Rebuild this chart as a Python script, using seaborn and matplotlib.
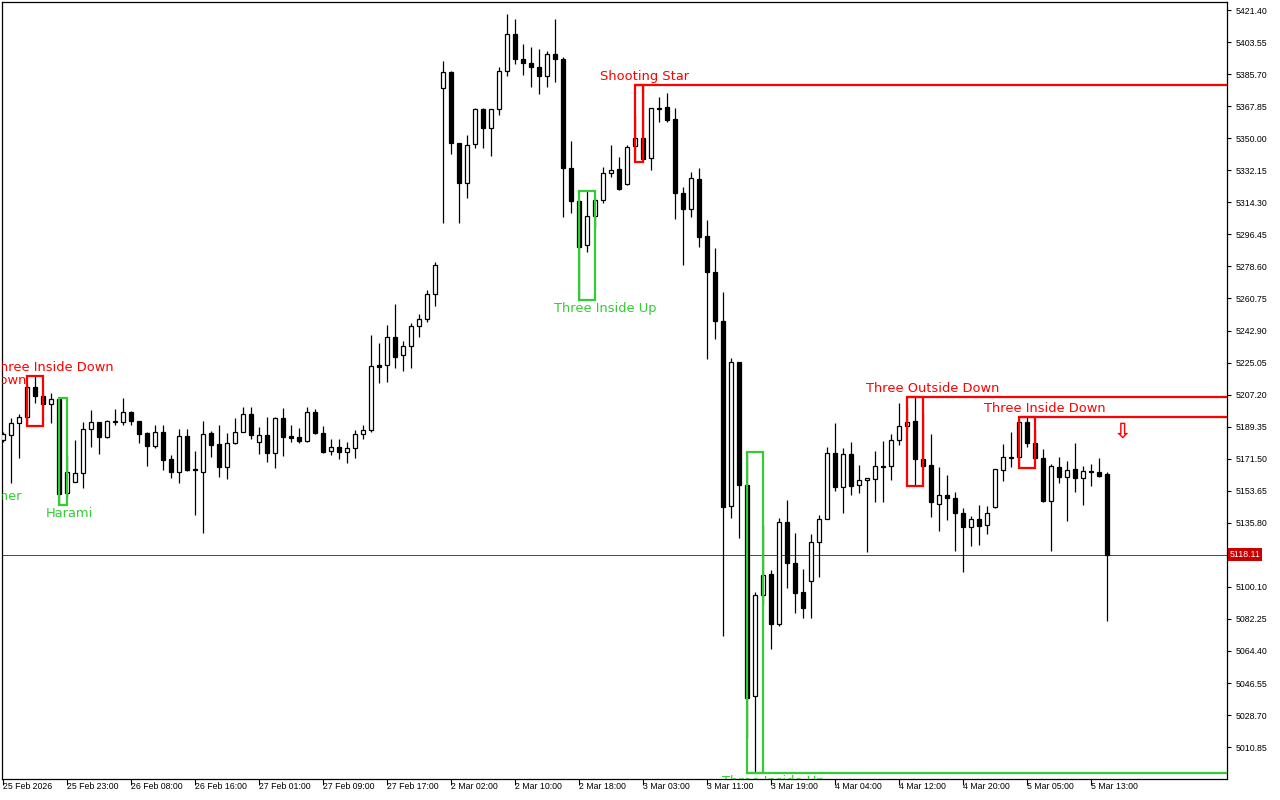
import numpy as np
import pandas as pd
import matplotlib
matplotlib.use("Agg")
import matplotlib.pyplot as plt
import matplotlib.transforms as mtransforms
from matplotlib import font_manager
from matplotlib.patches import Rectangle
import seaborn as sns

# =========================================================
# 0. DATA (H1 candles)
# =========================================================

opens = [
    5181.9, 5184.7, 5191.2, 5194.5, 5211.6, 5206.4, 5201.8, 5204.6, 5152.5, 5158.7,
    5163.3, 5187.9, 5191.8, 5183.7, 5192.1, 5192.1, 5197.7, 5192.6, 5185.6, 5178.7,
    5186.5, 5171.3, 5164.2, 5184.1, 5165.6, 5164.2, 5185.6, 5179.7, 5167.0, 5180.1,
    5186.5, 5196.2, 5180.9, 5184.7, 5174.5, 5194.0, 5184.1, 5183.4, 5181.5, 5197.3,
    5185.6, 5175.9, 5178.2, 5175.4, 5177.3, 5185.1, 5187.3, 5223.5, 5223.5, 5239.1,
    5229.1, 5234.4, 5245.2, 5249.5, 5263.0, 5377.8, 5386.7, 5347.2, 5324.9, 5346.6,
    5366.3, 5355.5, 5366.1, 5387.4, 5407.9, 5393.9, 5391.7, 5389.5, 5384.8, 5396.7,
    5393.9, 5333.2, 5315.0, 5290.3, 5306.8, 5315.6, 5330.4, 5332.8, 5324.3, 5345.6,
    5349.9, 5338.8, 5366.1, 5367.2, 5360.5, 5319.3, 5310.4, 5327.3, 5295.7, 5275.3,
    5248.0, 5145.1, 5225.1, 5156.8, 5039.5, 5095.6, 5107.1, 5079.2, 5136.1, 5113.2,
    5097.1, 5103.4, 5124.9, 5138.1, 5174.5, 5155.9, 5174.1, 5156.8, 5159.6, 5160.0,
    5167.6, 5167.4, 5181.9, 5189.7, 5192.5, 5171.3, 5168.0, 5146.1, 5151.3, 5149.8,
    5141.1, 5133.6, 5137.7, 5134.4, 5144.4, 5165.2, 5171.7, 5172.3, 5191.8, 5180.1,
    5171.7, 5148.1, 5167.0, 5161.5, 5165.6, 5160.6, 5164.6, 5164.2, 5163.0,
]
highs = [
    5186.3, 5194.1, 5196.4, 5212.5, 5217.5, 5208.1, 5207.9, 5205.3, 5173.5, 5181.9,
    5192.1, 5198.6, 5192.1, 5193.0, 5199.0, 5205.1, 5198.2, 5192.6, 5186.5, 5190.2,
    5190.2, 5173.5, 5188.0, 5188.0, 5175.8, 5192.5, 5186.9, 5190.2, 5185.6, 5194.0,
    5200.1, 5200.1, 5189.0, 5194.5, 5194.5, 5199.5, 5190.2, 5188.4, 5200.1, 5199.0,
    5189.7, 5182.3, 5182.3, 5180.8, 5187.5, 5190.2, 5240.4, 5235.8, 5245.9, 5257.6,
    5237.0, 5246.9, 5252.1, 5265.4, 5280.9, 5393.0, 5387.6, 5347.2, 5351.8, 5367.0,
    5367.0, 5366.1, 5389.8, 5419.2, 5416.4, 5402.5, 5401.0, 5399.7, 5398.6, 5416.4,
    5395.1, 5348.4, 5315.6, 5320.6, 5316.7, 5333.8, 5346.2, 5339.7, 5346.2, 5362.4,
    5379.6, 5366.6, 5372.8, 5375.0, 5366.6, 5323.0, 5331.0, 5333.4, 5304.4, 5288.7,
    5264.2, 5227.6, 5225.1, 5175.2, 5097.4, 5134.5, 5109.5, 5138.3, 5148.5, 5130.3,
    5110.0, 5129.5, 5140.1, 5178.2, 5191.2, 5177.6, 5180.9, 5168.0, 5160.6, 5175.9,
    5181.5, 5185.1, 5202.3, 5200.4, 5206.0, 5196.8, 5185.1, 5167.0, 5162.4, 5153.1,
    5143.9, 5139.6, 5145.7, 5145.1, 5166.0, 5179.5, 5186.2, 5194.7, 5194.9, 5187.5,
    5176.7, 5168.5, 5172.6, 5170.2, 5180.1, 5167.4, 5168.4, 5171.7, 5164.2,
]
lows = [
    5180.8, 5157.9, 5172.0, 5189.7, 5202.7, 5199.7, 5191.2, 5145.7, 5150.3, 5158.5,
    5155.3, 5178.2, 5173.9, 5182.8, 5190.1, 5190.1, 5190.1, 5180.1, 5167.4, 5177.4,
    5165.2, 5160.9, 5157.8, 5164.6, 5140.1, 5130.3, 5172.6, 5161.5, 5160.3, 5179.7,
    5186.5, 5182.3, 5174.1, 5169.8, 5166.5, 5173.0, 5180.9, 5180.4, 5180.9, 5185.1,
    5174.9, 5173.5, 5171.3, 5168.9, 5171.9, 5182.7, 5186.5, 5213.8, 5214.4, 5221.8,
    5220.5, 5222.2, 5239.4, 5247.8, 5256.7, 5302.6, 5341.0, 5302.9, 5316.9, 5344.4,
    5344.7, 5340.3, 5362.9, 5384.6, 5391.2, 5385.2, 5378.7, 5374.6, 5378.7, 5381.5,
    5306.3, 5308.2, 5259.9, 5286.8, 5300.0, 5313.7, 5328.2, 5321.1, 5323.9, 5336.9,
    5337.9, 5332.3, 5359.2, 5359.2, 5304.8, 5279.4, 5305.9, 5289.6, 5227.0, 5238.0,
    5072.9, 5138.7, 5127.5, 5016.1, 4996.6, 5090.0, 5065.3, 5078.3, 5099.3, 5085.7,
    5082.9, 5082.9, 5105.8, 5137.9, 5153.7, 5141.1, 5151.3, 5152.2, 5119.7, 5147.2,
    5147.2, 5159.6, 5179.1, 5187.5, 5156.3, 5165.2, 5139.2, 5131.2, 5137.3, 5120.2,
    5108.2, 5123.0, 5123.4, 5129.3, 5144.0, 5159.1, 5166.7, 5166.5, 5177.8, 5171.3,
    5147.5, 5120.2, 5158.1, 5136.9, 5153.1, 5145.7, 5156.3, 5161.3, 5081.2,
]
closes = [
    5185.2, 5191.4, 5194.5, 5211.6, 5206.4, 5201.8, 5204.6, 5151.6, 5164.2, 5163.3,
    5187.9, 5191.8, 5183.7, 5192.5, 5192.5, 5197.7, 5192.6, 5185.2, 5178.7, 5186.5,
    5170.8, 5164.2, 5184.1, 5165.2, 5165.0, 5185.2, 5179.1, 5167.0, 5180.1, 5186.5,
    5196.2, 5184.7, 5184.7, 5174.5, 5194.0, 5183.4, 5183.2, 5181.5, 5197.7, 5185.6,
    5175.4, 5178.2, 5175.4, 5177.3, 5185.1, 5187.3, 5223.1, 5222.7, 5239.1, 5228.3,
    5234.4, 5245.2, 5249.5, 5263.0, 5279.2, 5386.7, 5347.2, 5324.9, 5346.0, 5366.3,
    5355.5, 5366.1, 5387.4, 5407.9, 5393.9, 5391.7, 5389.5, 5384.8, 5396.7, 5393.9,
    5333.2, 5315.2, 5289.6, 5306.7, 5315.4, 5330.4, 5332.3, 5321.5, 5345.3, 5349.9,
    5338.2, 5366.6, 5366.6, 5360.1, 5319.3, 5310.4, 5327.7, 5295.1, 5275.7, 5248.3,
    5144.6, 5225.1, 5156.8, 5038.4, 5095.6, 5106.7, 5079.2, 5136.1, 5113.2, 5096.8,
    5088.2, 5124.9, 5138.1, 5174.5, 5155.9, 5174.1, 5156.4, 5159.6, 5160.6, 5167.6,
    5167.0, 5181.9, 5189.7, 5192.1, 5171.1, 5167.4, 5147.5, 5151.3, 5149.4, 5141.1,
    5133.3, 5137.7, 5134.2, 5141.1, 5165.5, 5172.3, 5172.3, 5192.1, 5180.1, 5171.7,
    5148.1, 5167.6, 5161.5, 5165.2, 5160.6, 5164.6, 5163.9, 5161.8, 5118.11,
]

time_labels = [
    "25 Feb 2026", "25 Feb 23:00", "26 Feb 08:00", "26 Feb 16:00", "27 Feb 01:00",
    "27 Feb 09:00", "27 Feb 17:00", "2 Mar 02:00", "2 Mar 10:00", "2 Mar 18:00",
    "3 Mar 03:00", "3 Mar 11:00", "3 Mar 19:00", "4 Mar 04:00", "4 Mar 12:00",
    "4 Mar 20:00", "5 Mar 05:00", "5 Mar 13:00",
]

price_ticks = [
    5421.40, 5403.55, 5385.70, 5367.85, 5350.00, 5332.15, 5314.30, 5296.45,
    5278.60, 5260.75, 5242.90, 5225.05, 5207.20, 5189.35, 5171.50, 5153.65,
    5135.80, 5100.10, 5082.25, 5064.40, 5046.55, 5028.70, 5010.85,
]
last_price = 5118.11

# candle patterns: (name, first bar, last bar, bullish, extend line to the right)
pattern_names = ["Three Inside Down", "Harami", "Three Inside Up", "Shooting Star",
                 "Three Inside Up", "Three Outside Down", "Three Inside Down"]
pattern_first = [3, 7, 72, 79, 93, 113, 127]
pattern_last = [5, 8, 74, 80, 95, 115, 129]
pattern_bull = [False, True, True, False, True, False, False]
pattern_extend = [False, False, False, True, True, True, True]

# sell signal arrow
signal_bar = 140
signal_price = 5186.9

# =========================================================
# 1. STYLE
# =========================================================

RED = "#FF0000"
GREEN = "#32CD32"

sns.set_theme(style="white")
plt.rcParams["font.family"] = ["DejaVu Sans"]

# narrow font for the scales (terminal style), fall back to a smaller size
installed = {f.name for f in font_manager.fontManager.ttflist}
if "Liberation Sans Narrow" in installed:
    TICK_FONT, TICK_SIZE = "Liberation Sans Narrow", 7.4
elif "Liberation Sans" in installed:
    TICK_FONT, TICK_SIZE = "Liberation Sans", 6.3
else:
    TICK_FONT, TICK_SIZE = "DejaVu Sans", 5.6

df = pd.DataFrame({"Open": opens, "High": highs, "Low": lows, "Close": closes})
df["Bar"] = np.arange(len(df))
df["Up"] = df["Close"] > df["Open"]

fig = plt.figure(figsize=(12.8, 8), dpi=100)
ax = fig.add_axes([2 / 1280, 21 / 800, 1225 / 1280, 777 / 800])
ax.set_facecolor("white")

XMAX = 153
ax.set_xlim(-0.125, XMAX)
ax.set_ylim(4993.1, 5425.9)

# =========================================================
# 2. CANDLES
# =========================================================

ax.vlines(df["Bar"], df["Low"], df["High"], color="black", lw=0.9, zorder=2)
body_lo = df[["Open", "Close"]].min(axis=1)
body_h = (df["Close"] - df["Open"]).abs()
ax.bar(df["Bar"], body_h, bottom=body_lo, width=0.62,
       color=np.where(df["Up"], "white", "black"),
       edgecolor="black", linewidth=0.9, zorder=3)

# =========================================================
# 3. PATTERNS
# =========================================================

for name, a, b, bull, ext in zip(pattern_names, pattern_first, pattern_last,
                                 pattern_bull, pattern_extend):
    hi = df["High"].iloc[a:b + 1].max()
    lo = df["Low"].iloc[a:b + 1].min()
    col = GREEN if bull else RED
    ax.add_patch(Rectangle((a, lo), b - a, hi - lo, fill=False, ec=col,
                           lw=1.6, zorder=4))
    if ext:
        ax.hlines(lo if bull else hi, a, XMAX, color=col, lw=1.6, zorder=4)
    xc = b + (b - a - 1) + 0.25
    if bull:
        ax.annotate(name, (xc, lo), xytext=(0, -1.5), textcoords="offset points",
                    ha="center", va="top", color=col, fontsize=9.4,
                    clip_on=True, annotation_clip=False, zorder=5)
    else:
        ax.annotate(name, (xc, hi), xytext=(0, 1.5), textcoords="offset points",
                    ha="center", va="bottom", color=col, fontsize=9.4,
                    clip_on=True, annotation_clip=False, zorder=5)

# labels of patterns that start before the first visible bar
ax.text(2.4, 5154.0, "Hammer", ha="right", va="top", color=GREEN,
        fontsize=9.4, clip_on=True)
ax.text(2.9, 5211.4, "Three Outside Down", ha="right", va="bottom", color=RED,
        fontsize=9.4, clip_on=True)

# signal arrow
ax.text(signal_bar, signal_price, "\u21e9", ha="center", va="center",
        color=RED, fontsize=15, fontweight="bold", zorder=5)

# current price (crisp one-pixel red line)
ax.axhline(last_price, color="#FF0000", lw=0.7, antialiased=False, zorder=1.5)
trans = mtransforms.blended_transform_factory(ax.transAxes, ax.transData)
ax.text(1.0022, last_price, f"{last_price:.2f}", transform=trans, ha="left",
        va="center", color="white", fontsize=TICK_SIZE, family=TICK_FONT,
        bbox=dict(boxstyle="square,pad=0.22", fc="#C80000", ec="none"),
        clip_on=False, zorder=6)

# =========================================================
# 4. AXES
# =========================================================

ax.yaxis.tick_right()
ax.set_yticks(price_ticks)
ax.set_yticklabels([f"{v:.2f}" for v in price_ticks])
ax.set_xticks(range(0, len(df), 8))
ax.set_xticklabels(time_labels)
for lbl in ax.get_xticklabels():
    lbl.set_horizontalalignment("left")

ax.tick_params(axis="y", direction="out", length=3, width=0.8, pad=3.5,
               labelsize=TICK_SIZE, colors="black", labelfontfamily=TICK_FONT)
ax.tick_params(axis="x", direction="out", length=4.3, width=0.8, pad=-2.0,
               labelsize=TICK_SIZE, colors="black", labelfontfamily=TICK_FONT)
ax.tick_params(axis="x", bottom=True)
ax.tick_params(axis="y", right=True, left=False)

for side in ["top", "right", "left", "bottom"]:
    ax.spines[side].set_visible(True)
    ax.spines[side].set_color("black")
    ax.spines[side].set_linewidth(0.9)

ax.set_xlabel("")
ax.set_ylabel("")
ax.grid(False)

fig.savefig("out.png", dpi=100)
